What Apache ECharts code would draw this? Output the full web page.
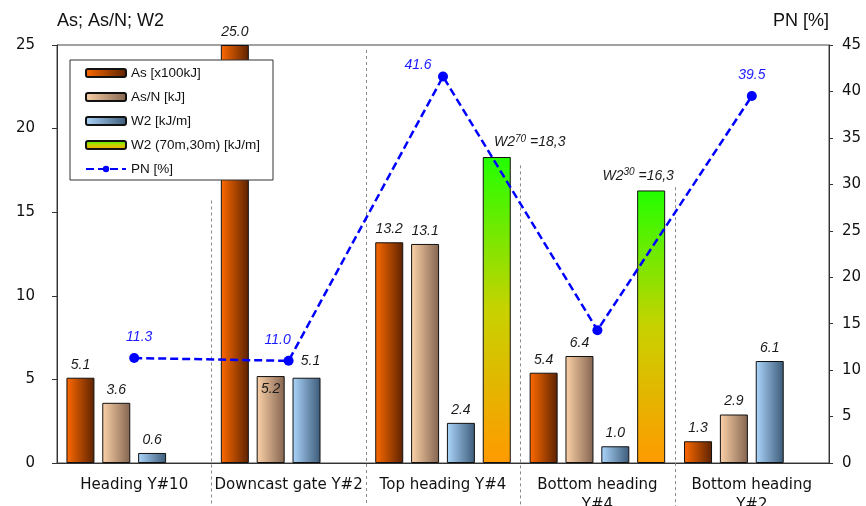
<!DOCTYPE html>
<html>
<head>
<meta charset="utf-8">
<script src="https://cdn.jsdelivr.net/npm/echarts@6/dist/echarts.min.js"></script>
<style>
  html, body { margin: 0; padding: 0; background: #fff; }
  #chart { width: 866px; height: 506px; }
</style>
</head>
<body>
<div id="chart"></div>
<script>
// Heading categories along the x axis
const categories = ['Heading Y#10', 'Downcast gate Y#2', 'Top heading Y#4', 'Bottom heading\nY#4', 'Bottom heading\nY#2'];

// Energy series (left axis)
const asValues = [5.1, 25.0, 13.2, 5.4, 1.3];        // As [x100kJ]
const asPerN = [3.6, 5.2, 13.1, 6.4, 2.9];           // As/N [kJ]
const w2Values = [0.6, 5.1, 2.4, 1.0, 6.1];          // W2 [kJ/m]
const w2Long = [null, null, 18.3, 16.3, null];       // W2 (70m,30m) [kJ/m]
const w2LongSpan = [null, null, '70', '30', null];   // span (m) shown as superscript

// PN series (right axis)
const pnValues = [11.3, 11.0, 41.6, 14.3, 39.5];
const pnShowLabel = [true, true, true, false, true];

// Right/left axis ticks
const leftTicks = { min: 0, max: 25, interval: 5 };
const rightTicks = { min: 0, max: 45, interval: 5 };

// Tops of the dotted dividers between headings (left-axis units)
const dividerTops = [15.7, 24.7, 17.8, 16.5];

const FONT = 'Liberation Sans, Arial, sans-serif';
const TICKFONT = 'DejaVu Sans, Verdana, sans-serif';

function hGrad(a, b) {
  return new echarts.graphic.LinearGradient(0, 0, 1, 0, [
    { offset: 0, color: a }, { offset: 1, color: b }
  ]);
}

const valueLabel = {
  show: true,
  position: 'top',
  distance: 6,
  fontFamily: FONT,
  fontStyle: 'italic',
  fontSize: 14,
  color: '#1a1a1a',
  formatter: p => p.value.toFixed(1)
};

const barBorder = { borderColor: '#111', borderWidth: 1 };

// Per-point label tweaks for the PN line
const pnLabelOffsets = [[5, 0], [-11, 0], [-25, 10], [0, 0], [0, 0]];
// Per-bar label tweaks
const asNLabelPos = ['top', 'insideTop', 'top', 'top', 'top'];
const w2LabelOffsets = [[0, 0], [4, -4], [0, 0], [0, 0], [0, 0]];
const w2LongLabelOffsets = [null, null, [33, 0], [-13, 0], null];

const chart = echarts.init(document.getElementById('chart'), null, { renderer: 'canvas' });

const option = {
  animation: false,
  backgroundColor: '#fff',
  grid: {
    left: 57, right: 37, top: 45, bottom: 43,
    outerBoundsMode: 'none',
    containLabel: false,
    show: true, borderColor: '#444', borderWidth: 1, backgroundColor: 'transparent'
  },
  legend: {
    orient: 'vertical',
    left: 70, top: 60,
    padding: [6, 13, 4, 15],
    itemGap: 10,
    itemWidth: 40,
    itemHeight: 8,
    backgroundColor: '#fff',
    borderColor: '#333',
    borderWidth: 1,
    borderRadius: 0,
    textStyle: { fontFamily: FONT, fontSize: 13.5, color: '#111', lineHeight: 14 },
    data: ['As [x100kJ]', 'As/N [kJ]', 'W2 [kJ/m]', 'W2 (70m,30m) [kJ/m]', 'PN [%]']
  },
  xAxis: {
    type: 'category',
    data: categories,
    boundaryGap: true,
    axisLine: { lineStyle: { color: '#333', width: 1 } },
    axisTick: { show: false },
    axisLabel: {
      interval: 0, margin: 12,
      fontFamily: TICKFONT, fontSize: 15, color: '#111', lineHeight: 20
    }
  },
  yAxis: [
    {
      type: 'value',
      min: leftTicks.min, max: leftTicks.max, interval: leftTicks.interval,
      name: 'As; As/N; W2',
      nameLocation: 'end',
      nameGap: 15,
      nameTextStyle: { fontFamily: FONT, fontSize: 18, color: '#111', align: 'left' },
      axisLine: { show: true, lineStyle: { color: '#333' } },
      axisTick: { show: true, length: 5, lineStyle: { color: '#333' } },
      splitLine: { show: false },
      axisLabel: { margin: 22, fontFamily: TICKFONT, fontSize: 15, color: '#111' }
    },
    {
      type: 'value',
      position: 'right',
      min: rightTicks.min, max: rightTicks.max, interval: rightTicks.interval,
      name: 'PN [%]',
      nameLocation: 'end',
      nameGap: 15,
      nameTextStyle: { fontFamily: FONT, fontSize: 18, color: '#111', align: 'right' },
      axisLine: { show: true, lineStyle: { color: '#333' } },
      axisTick: { show: true, length: 4, lineStyle: { color: '#333' } },
      splitLine: { show: false },
      axisLabel: { margin: 13, fontFamily: TICKFONT, fontSize: 15, color: '#111' }
    }
  ],
  series: [
    {
      name: 'As [x100kJ]',
      type: 'bar',
      barWidth: 28,
      barGap: '28%',
      barCategoryGap: '12%',
      itemStyle: Object.assign({ color: hGrad('#ff6a00', '#5c2200') }, barBorder),
      label: valueLabel,
      data: asValues
    },
    {
      name: 'As/N [kJ]',
      type: 'bar',
      barWidth: 28,
      barGap: '28%',
      itemStyle: Object.assign({ color: hGrad('#fcd2a8', '#846450') }, barBorder),
      label: valueLabel,
      data: asPerN.map((v, i) => ({ value: v, label: { position: asNLabelPos[i] } }))
    },
    {
      name: 'W2 [kJ/m]',
      type: 'bar',
      barWidth: 28,
      barGap: '28%',
      itemStyle: Object.assign({ color: hGrad('#acd6fc', '#3c5a78') }, barBorder),
      label: valueLabel,
      data: w2Values.map((v, i) => ({ value: v, label: { offset: w2LabelOffsets[i] } }))
    },
    {
      name: 'W2 (70m,30m) [kJ/m]',
      type: 'bar',
      barWidth: 28,
      barGap: '28%',
      itemStyle: Object.assign({
        color: new echarts.graphic.LinearGradient(0, 0, 0, 1, [
          { offset: 0, color: '#22ff00' },
          { offset: 0.5, color: '#c8d200' },
          { offset: 1, color: '#ff9a00' }
        ])
      }, barBorder),
      label: {
        show: true,
        position: 'top',
        distance: 6,
        formatter: p => '{b|W2}{s|' + w2LongSpan[p.dataIndex] + '}{b| =' + p.value.toFixed(1).replace('.', ',') + '}',
        rich: {
          b: { fontFamily: FONT, fontStyle: 'italic', fontSize: 14, color: '#1a1a1a' },
          s: { fontFamily: FONT, fontStyle: 'italic', fontSize: 10, color: '#1a1a1a', padding: [0, 0, 7, 0] }
        }
      },
      data: w2Long.map((v, i) => v == null ? null : ({ value: v, label: { offset: w2LongLabelOffsets[i] } }))
    },
    {
      name: 'PN [%]',
      type: 'line',
      yAxisIndex: 1,
      z: 5,
      symbol: 'circle',
      symbolSize: 10,
      itemStyle: { color: '#0000ff' },
      lineStyle: { color: '#0000ff', width: 2.5, type: [8, 4] },
      label: {
        show: true,
        position: 'top',
        distance: 9,
        fontFamily: FONT, fontStyle: 'italic', fontSize: 14, color: '#1a1aff',
        formatter: p => p.value.toFixed(1)
      },
      data: pnValues.map((v, i) => ({
        value: v,
        label: { show: pnShowLabel[i], offset: pnLabelOffsets[i] }
      }))
    }
  ]
};

chart.setOption(option);

// Dotted dividers between headings, placed through the axis scales
const h = chart.getHeight();
const dividers = dividerTops.map((top, i) => {
  const a = chart.convertToPixel({ xAxisIndex: 0 }, i);
  const b = chart.convertToPixel({ xAxisIndex: 0 }, i + 1);
  const x = Math.round((a + b) / 2) + 0.5;
  const y = chart.convertToPixel({ yAxisIndex: 0 }, top);
  return {
    type: 'line',
    z: 1,
    shape: { x1: x, y1: y, x2: x, y2: h },
    style: { stroke: '#8a8a8a', lineWidth: 1, lineDash: [3, 3] },
    silent: true
  };
});
chart.setOption({ graphic: dividers });
</script>
</body>
</html>
